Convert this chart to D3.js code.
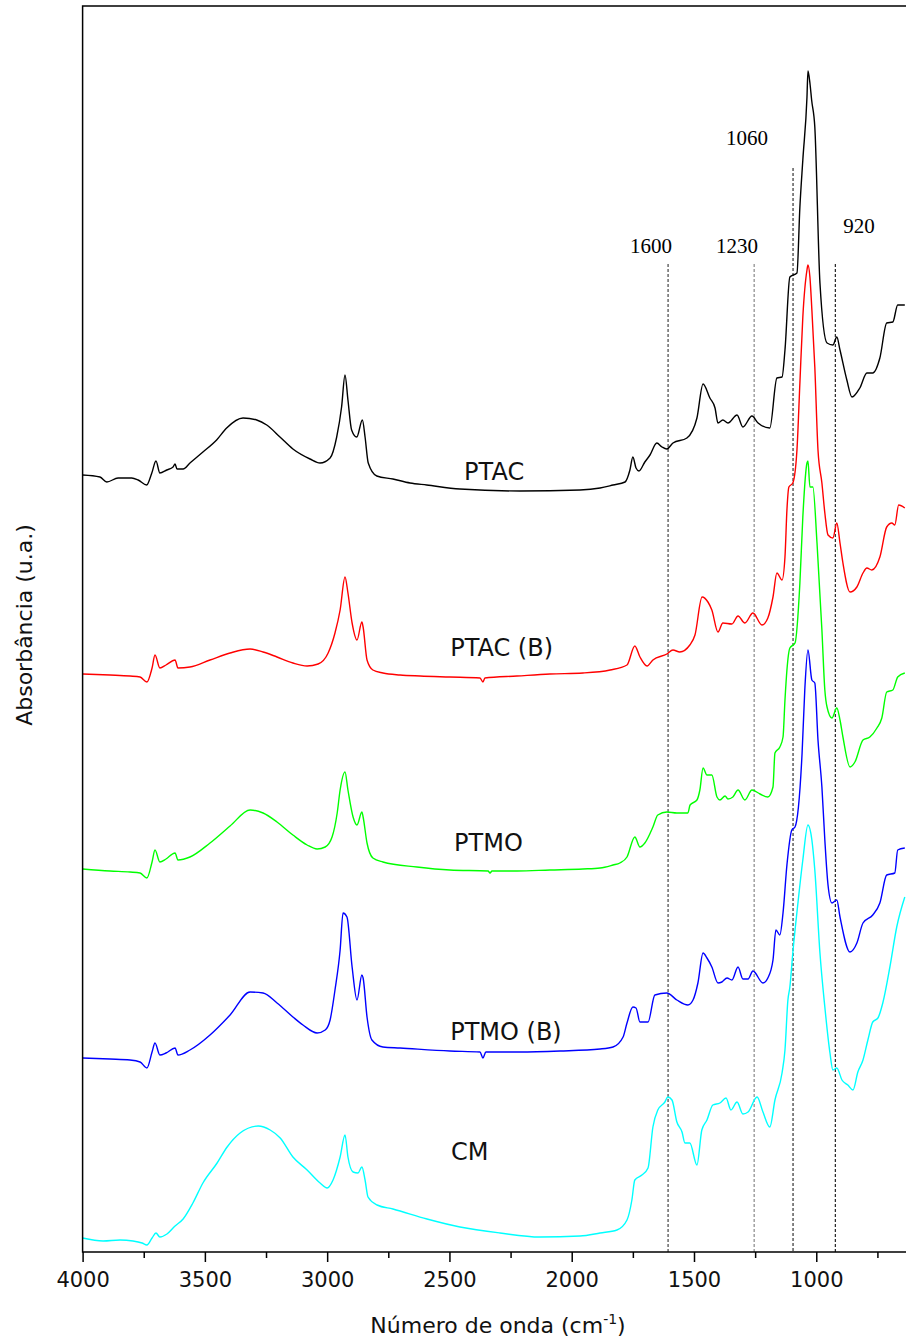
<!DOCTYPE html>
<html>
<head>
<meta charset="utf-8">
<script src="https://cdn.jsdelivr.net/npm/d3@7"></script>
<style>
  body { margin: 0; background: #fff; }
  svg { display: block; }
</style>
</head>
<body>
<div id="chart"></div>
<script>
// FTIR spectra, [wavenumber (cm-1), absorbance (u.a.)], already stacked with offsets
const ptac = [[4000,.777],[3929,.775],[3901,.770],[3855,.774],[3799,.774],[3773,.772],[3738,.767],[3717,.779],[3700,.791],[3684,.779],[3656,.782],[3630,.785],[3622,.788],[3614,.783],[3589,.783],[3561,.789],[3508,.800],[3452,.812],[3411,.824],[3344,.834],[3288,.832],[3247,.827],[3193,.815],[3140,.803],[3070,.793],[3029,.789],[2988,.794],[2961,.815],[2941,.845],[2927,.877],[2915,.852],[2900,.822],[2879,.815],[2856,.832],[2845,.815],[2832,.789],[2797,.776],[2731,.773],[2661,.769],[2593,.767],[2457,.763],[2212,.761],[1966,.762],[1884,.764],[1831,.767],[1782,.770],[1762,.782],[1750,.795],[1737,.784],[1725,.781],[1701,.790],[1680,.797],[1652,.809],[1631,.805],[1611,.803],[1586,.809],[1529,.814],[1488,.834],[1463,.868],[1435,.854],[1414,.844],[1402,.829],[1382,.832],[1361,.829],[1324,.837],[1300,.825],[1263,.836],[1238,.829],[1190,.824],[1161,.874],[1140,.875],[1128,.902],[1108,.975],[1079,.979],[1067,1.045],[1055,1.092],[1038,1.155],[1034,1.181],[1026,1.169],[1019,1.152],[1006,1.125],[985,.969],[956,.909],[932,.907],[916,.915],[903,.902],[875,.872],[854,.855],[822,.864],[793,.879],[769,.879],[740,.894],[712,.929],[687,.930],[667,.947],[638,.947]];

const ptacB = [[4000,.578],[3888,.577],[3806,.576],[3765,.575],[3737,.570],[3716,.584],[3704,.597],[3684,.584],[3659,.587],[3622,.592],[3610,.584],[3561,.585],[3479,.592],[3397,.599],[3315,.603],[3262,.600],[3205,.595],[3140,.589],[3082,.586],[3037,.588],[2996,.599],[2968,.619],[2947,.642],[2927,.675],[2915,.659],[2898,.629],[2878,.612],[2858,.630],[2853,.625],[2837,.592],[2813,.582],[2772,.579],[2702,.577],[2620,.576],[2498,.575],[2375,.574],[2363,.570],[2355,.574],[2224,.576],[2089,.578],[1954,.579],[1843,.582],[1774,.587],[1742,.606],[1721,.595],[1692,.586],[1668,.592],[1611,.598],[1586,.602],[1558,.600],[1517,.607],[1496,.617],[1467,.655],[1443,.650],[1427,.642],[1402,.620],[1382,.629],[1345,.628],[1320,.636],[1292,.629],[1259,.639],[1222,.627],[1198,.634],[1177,.655],[1161,.679],[1140,.672],[1128,.695],[1120,.742],[1112,.765],[1096,.769],[1079,.802],[1067,.869],[1055,.935],[1038,.982],[1034,.987],[1026,.975],[1018,.942],[1006,.885],[993,.802],[977,.769],[965,.739],[952,.717],[932,.714],[916,.729],[903,.709],[891,.689],[862,.660],[834,.665],[809,.679],[793,.684],[773,.682],[740,.695],[712,.725],[691,.729],[679,.727],[663,.747],[638,.744]];

const ptmo = [[4000,.383],[3888,.381],[3806,.380],[3765,.379],[3737,.374],[3716,.390],[3704,.402],[3684,.390],[3659,.393],[3622,.399],[3610,.392],[3561,.395],[3479,.409],[3397,.426],[3315,.442],[3262,.439],[3205,.430],[3140,.417],[3082,.407],[3041,.403],[3008,.405],[2980,.415],[2959,.439],[2947,.462],[2927,.480],[2915,.462],[2894,.435],[2878,.427],[2858,.440],[2853,.435],[2837,.409],[2813,.394],[2772,.390],[2633,.385],[2498,.382],[2342,.381],[2334,.379],[2326,.381],[2224,.381],[2089,.382],[1954,.383],[1884,.384],[1831,.387],[1803,.389],[1774,.395],[1742,.415],[1721,.405],[1701,.409],[1668,.425],[1648,.437],[1611,.440],[1570,.439],[1525,.439],[1516,.447],[1488,.452],[1476,.462],[1463,.484],[1447,.477],[1427,.477],[1406,.455],[1394,.452],[1373,.456],[1361,.453],[1341,.455],[1320,.462],[1292,.452],[1263,.462],[1230,.458],[1198,.455],[1177,.465],[1169,.499],[1149,.505],[1136,.515],[1128,.552],[1120,.582],[1108,.604],[1087,.609],[1067,.669],[1055,.735],[1038,.789],[1034,.791],[1026,.765],[1014,.765],[997,.709],[977,.622],[965,.562],[956,.545],[936,.534],[916,.544],[903,.532],[891,.515],[862,.485],[842,.490],[809,.512],[781,.515],[752,.524],[732,.534],[712,.560],[687,.562],[667,.575],[638,.579]];

const ptmoB = [[4000,.194],[3888,.193],[3806,.192],[3765,.190],[3737,.184],[3716,.200],[3704,.209],[3684,.197],[3659,.199],[3622,.204],[3610,.197],[3561,.202],[3479,.217],[3397,.237],[3315,.260],[3262,.259],[3205,.249],[3140,.235],[3099,.227],[3041,.219],[3008,.222],[2988,.232],[2968,.262],[2947,.302],[2935,.339],[2919,.335],[2898,.285],[2878,.252],[2858,.277],[2853,.274],[2837,.235],[2817,.212],[2772,.205],[2702,.204],[2498,.201],[2375,.200],[2363,.194],[2351,.200],[2212,.200],[2048,.201],[1884,.203],[1831,.205],[1790,.215],[1774,.229],[1750,.245],[1737,.244],[1721,.230],[1688,.230],[1660,.257],[1611,.259],[1570,.252],[1525,.247],[1504,.252],[1484,.269],[1463,.299],[1447,.294],[1427,.285],[1402,.269],[1386,.270],[1365,.274],[1345,.272],[1320,.285],[1300,.273],[1279,.273],[1259,.281],[1218,.269],[1198,.274],[1177,.292],[1165,.322],[1149,.317],[1136,.339],[1120,.387],[1100,.422],[1087,.425],[1058,.499],[1047,.562],[1034,.602],[1018,.572],[1006,.569],[993,.512],[977,.465],[965,.412],[952,.367],[936,.349],[916,.352],[903,.335],[862,.300],[834,.309],[809,.329],[769,.337],[740,.349],[712,.377],[679,.379],[667,.402],[638,.404]];

const cm = [[4000,.014],[3916,.011],[3847,.012],[3794,.011],[3757,.009],[3737,.007],[3716,.014],[3700,.019],[3684,.015],[3655,.018],[3622,.026],[3589,.033],[3549,.049],[3508,.069],[3450,.089],[3409,.105],[3356,.119],[3282,.126],[3233,.122],[3192,.114],[3140,.095],[3082,.082],[3029,.069],[3000,.064],[2976,.072],[2947,.095],[2927,.117],[2915,.095],[2894,.080],[2874,.079],[2858,.085],[2845,.072],[2833,.055],[2796,.047],[2731,.043],[2592,.033],[2457,.025],[2293,.019],[2130,.015],[1966,.016],[1884,.019],[1815,.022],[1774,.032],[1754,.052],[1742,.072],[1713,.077],[1688,.084],[1668,.125],[1648,.142],[1619,.150],[1607,.155],[1590,.152],[1570,.130],[1549,.120],[1537,.109],[1517,.109],[1488,.087],[1468,.122],[1447,.132],[1423,.147],[1394,.149],[1369,.154],[1349,.142],[1324,.150],[1300,.138],[1279,.140],[1242,.155],[1218,.140],[1190,.125],[1169,.152],[1140,.179],[1128,.202],[1116,.252],[1108,.265],[1096,.299],[1075,.349],[1055,.392],[1034,.427],[1018,.412],[1006,.382],[985,.299],[965,.245],[944,.199],[932,.182],[916,.184],[895,.172],[871,.167],[850,.162],[830,.180],[809,.192],[789,.212],[769,.230],[748,.234],[728,.249],[699,.285],[671,.325],[638,.355]];

const seriesNames = ["PTAC", "PTAC (B)", "PTMO", "PTMO (B)", "CM"];
const seriesData = [ptac, ptacB, ptmo, ptmoB, cm];
const seriesColors = ["#000000", "#ff0000", "#00ff00", "#0000ff", "#00ffff"];
// where each name is written: [wavenumber, absorbance]
const labelSpots = [[2440, .772], [2497, .596], [2481, .401], [2497, .212], [2494, .092]];

// marked bands (dashed lines)
const bandPos = [1606, 1254, 1095, 922];
const bandText = ["1600", "1230", "1060", "920"];
const bandTop = [.988, .988, 1.084, .988];
const bandColors = ["#444", "#888", "#333", "#222"];
const bandTextPos = [[1676, .999], [1324, .999], [1283, 1.107], [825, 1.019]];

const majorTicks = [4000, 3500, 3000, 2500, 2000, 1500, 1000];
const minorTicks = [3750, 3250, 2750, 2250, 1750, 1250, 750];

var width = 906, height = 1342;
var plot = {left: 82.6, right: 914.1, top: 6, bottom: 1252};

let svg = d3.select("#chart")
  .append("svg")
  .attr("width", width)
  .attr("height", height)
  .style("font-family", "'DejaVu Sans', sans-serif");

let x = d3.scaleLinear()
  .domain([4000, 600])
  .range([plot.left, plot.right]);

let y = d3.scaleLinear()
  .domain([0, 1.246])
  .range([plot.bottom, plot.top]);

// band markers
svg.selectAll(".band")
  .data(bandPos)
  .enter()
  .append("line")
  .attr("class", "band")
  .attr("x1", d => x(d))
  .attr("x2", d => x(d))
  .attr("y1", (d, i) => y(bandTop[i]))
  .attr("y2", y(0))
  .attr("stroke", (d, i) => bandColors[i])
  .attr("stroke-width", 1.2)
  .attr("stroke-dasharray", "3,2");

svg.selectAll(".band-label")
  .data(bandText)
  .enter()
  .append("text")
  .attr("class", "band-label")
  .attr("x", (d, i) => x(bandTextPos[i][0]))
  .attr("y", (d, i) => y(bandTextPos[i][1]))
  .attr("text-anchor", "middle")
  .style("font-family", "'Liberation Serif', 'Times New Roman', serif")
  .style("font-size", "21px")
  .text(d => d);

// spectra
let line = d3.line()
  .x(d => x(d[0]))
  .y(d => y(d[1]))
  .curve(d3.curveMonotoneX);

svg.selectAll(".spectrum")
  .data(seriesData)
  .enter()
  .append("path")
  .attr("class", "spectrum")
  .attr("d", line)
  .attr("fill", "none")
  .attr("stroke", (d, i) => seriesColors[i])
  .attr("stroke-width", 1.4)
  .attr("stroke-linejoin", "round");

svg.selectAll(".name")
  .data(seriesNames)
  .enter()
  .append("text")
  .attr("class", "name")
  .attr("x", (d, i) => x(labelSpots[i][0]))
  .attr("y", (d, i) => y(labelSpots[i][1]))
  .style("font-size", "24px")
  .attr("fill", "#111")
  .text(d => d);

// frame (right side falls outside the picture)
svg.append("path")
  .attr("d", `M${plot.right},${plot.top}H${plot.left}V${plot.bottom}H${plot.right}`)
  .attr("fill", "none")
  .attr("stroke", "#000")
  .attr("stroke-width", 1.5);

// x axis
let xAxis = d3.axisBottom(x)
  .tickValues(majorTicks)
  .tickSize(10)
  .tickSizeOuter(0)
  .tickPadding(10)
  .tickFormat(d3.format("d"));

let gx = svg.append("g")
  .attr("transform", `translate(0, ${plot.bottom})`)
  .call(xAxis);
gx.select(".domain").remove();
gx.selectAll("line").attr("stroke-width", 1.5);
gx.selectAll("text")
  .style("font-family", "'DejaVu Sans', sans-serif")
  .style("font-size", "21px")
  .attr("fill", "#111");

let gMinor = svg.append("g")
  .attr("transform", `translate(0, ${plot.bottom})`)
  .call(d3.axisBottom(x).tickValues(minorTicks).tickSize(6).tickSizeOuter(0).tickFormat(""));
gMinor.select(".domain").remove();
gMinor.selectAll("line").attr("stroke-width", 1.5);

// axis titles
let xTitle = svg.append("text")
  .attr("x", 498)
  .attr("y", 1333)
  .attr("text-anchor", "middle")
  .style("font-size", "22px")
  .attr("fill", "#111");
xTitle.append("tspan").text("Número de onda (cm");
xTitle.append("tspan").attr("dy", -9).style("font-size", "14px").text("-1");
xTitle.append("tspan").attr("dy", 9).text(")");

svg.append("text")
  .attr("transform", "translate(32, 625) rotate(-90)")
  .attr("text-anchor", "middle")
  .style("font-size", "22px")
  .attr("fill", "#111")
  .text("Absorbância (u.a.)");
</script>
</body>
</html>
